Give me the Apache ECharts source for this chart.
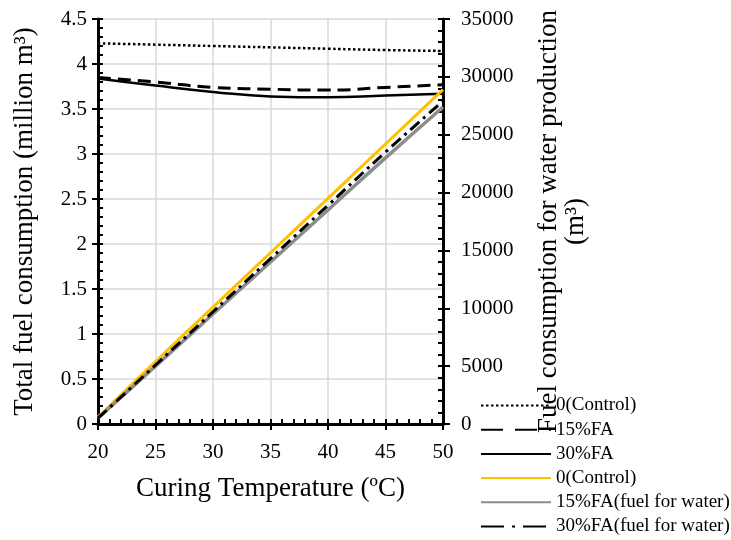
<!DOCTYPE html>
<html>
<head>
<meta charset="utf-8">
<script src="https://cdn.jsdelivr.net/npm/echarts@6/dist/echarts.min.js"></script>
<style>
  html, body { margin: 0; padding: 0; background: #fff; }
  #chart { width: 731px; height: 540px; }
</style>
</head>
<body>
<div id="chart"></div>
<script>
// curing temperature (ºC)
const temps = [20, 25, 30, 35, 40, 45, 50]
// total fuel consumption (million m3), left axis
const totalControl = [4.23, 4.215, 4.20, 4.185, 4.17, 4.155, 4.145]
const total15FA = [3.85, 3.80, 3.74, 3.72, 3.71, 3.74, 3.77]
const total30FA = [3.84, 3.76, 3.69, 3.64, 3.63, 3.65, 3.67]
// fuel for water production (m3), right axis
const waterControl = [600, 5400, 10100, 14800, 19500, 24200, 28900]
const water15FA = [500, 5000, 9500, 14000, 18500, 23000, 27400]
const water30FA = [500, 5100, 9700, 14300, 18900, 23500, 27900]

const font = 'Liberation Serif'
const pairs = arr => temps.map((t, i) => [t, arr[i]])

const lineSeries = (name, values, yIdx, color, width, dash) => ({
  name: name,
  type: 'line',
  xAxisIndex: 0,
  yAxisIndex: yIdx,
  smooth: true,
  symbol: 'none',
  data: pairs(values),
  lineStyle: { color: color, width: width, type: dash, cap: 'butt' },
  itemStyle: { color: color }
})

const chart = echarts.init(document.getElementById('chart'))
chart.setOption({
  animation: false,
  grid: { left: 98, right: 288, top: 19, bottom: 116 },
  legend: {
    orient: 'vertical',
    left: 480,
    top: 396,
    padding: 0,
    itemWidth: 70,
    itemHeight: 19,
    itemGap: 5.2,
    itemStyle: { color: 'rgba(0,0,0,0)', borderColor: 'rgba(0,0,0,0)', borderWidth: 0 },
    textStyle: { fontFamily: font, fontSize: 19, color: '#000' },
    data: [
      '0(Control)',
      { name: '15%FA', lineStyle: { type: [22, 12] } },
      '30%FA',
      '0(Control) ',
      '15%FA(fuel for water)',
      { name: '30%FA(fuel for water)', lineStyle: { type: [23, 8, 3, 8] } }
    ]
  },
  xAxis: [
    {
      type: 'value', position: 'bottom', min: 20, max: 50, interval: 5,
      name: 'Curing Temperature (ºC)', nameLocation: 'middle', nameGap: 51,
      nameTextStyle: { fontFamily: font, fontSize: 27, color: '#000' },
      axisLine: { lineStyle: { color: '#000', width: 3 } },
      axisTick: { show: true, inside: true, length: 5, lineStyle: { color: '#000', width: 2 } },
      minorTick: { show: true, splitNumber: 5, length: 5, lineStyle: { color: '#000', width: 2 } },
      axisLabel: { fontFamily: font, fontSize: 21, color: '#000', margin: 18 },
      splitLine: { show: true, lineStyle: { color: '#d9d9d9', width: 1.5 } }
    },
    {
      type: 'value', position: 'bottom', min: 20, max: 50, interval: 5,
      axisLine: { show: false },
      axisTick: { show: true, inside: false, length: 6, lineStyle: { color: '#000', width: 2 } },
      axisLabel: { show: false },
      splitLine: { show: false }
    },
    {
      type: 'value', position: 'top', min: 20, max: 50, interval: 5,
      axisLine: { lineStyle: { color: '#000', width: 3 } },
      axisTick: { show: false },
      axisLabel: { show: false },
      splitLine: { show: false }
    }
  ],
  yAxis: [
    {
      type: 'value', position: 'left', min: 0, max: 4.5, interval: 0.5,
      name: 'Total fuel consumption (million m³)', nameLocation: 'middle', nameGap: 60,
      nameTextStyle: { fontFamily: font, fontSize: 27, color: '#000' },
      axisLine: { show: true, lineStyle: { color: '#000', width: 3 } },
      axisTick: { show: true, inside: true, length: 5, lineStyle: { color: '#000', width: 2 } },
      minorTick: { show: true, splitNumber: 5, length: 5, lineStyle: { color: '#000', width: 2 } },
      axisLabel: { fontFamily: font, fontSize: 21, color: '#000', margin: 11 },
      splitLine: { show: true, lineStyle: { color: '#d9d9d9', width: 1.5 } }
    },
    {
      type: 'value', position: 'right', min: 0, max: 35000, interval: 5000,
      name: 'Fuel consumption for water production\n(m³)', nameLocation: 'middle', nameGap: 92,
      nameTextStyle: { fontFamily: font, fontSize: 27, color: '#000', lineHeight: 27 },
      axisLine: { show: true, lineStyle: { color: '#000', width: 3 } },
      axisTick: { show: true, inside: true, length: 5, lineStyle: { color: '#000', width: 2 } },
      minorTick: { show: true, splitNumber: 5, length: 5, lineStyle: { color: '#000', width: 2 } },
      axisLabel: { fontFamily: font, fontSize: 21, color: '#000', margin: 18, formatter: v => String(v) },
      splitLine: { show: false }
    },
    {
      type: 'value', position: 'left', min: 0, max: 4.5, interval: 0.5,
      axisLine: { show: false },
      axisTick: { show: true, inside: false, length: 6, lineStyle: { color: '#000', width: 2 } },
      axisLabel: { show: false },
      splitLine: { show: false }
    },
    {
      type: 'value', position: 'right', min: 0, max: 35000, interval: 5000,
      axisLine: { show: false },
      axisTick: { show: true, inside: false, length: 7, lineStyle: { color: '#000', width: 2 } },
      axisLabel: { show: false },
      splitLine: { show: false }
    }
  ],
  series: [
    lineSeries('0(Control)', totalControl, 0, '#000', 2.5, [2.5, 2.5]),
    lineSeries('15%FA', total15FA, 0, '#000', 3, [13, 7]),
    lineSeries('30%FA', total30FA, 0, '#000', 2.5, 'solid'),
    lineSeries('0(Control) ', waterControl, 1, '#ffc000', 3, 'solid'),
    lineSeries('15%FA(fuel for water)', water15FA, 1, '#8c8c8c', 3.5, 'solid'),
    lineSeries('30%FA(fuel for water)', water30FA, 1, '#000', 3, [12, 5, 3, 5])
  ]
})
</script>
</body>
</html>
